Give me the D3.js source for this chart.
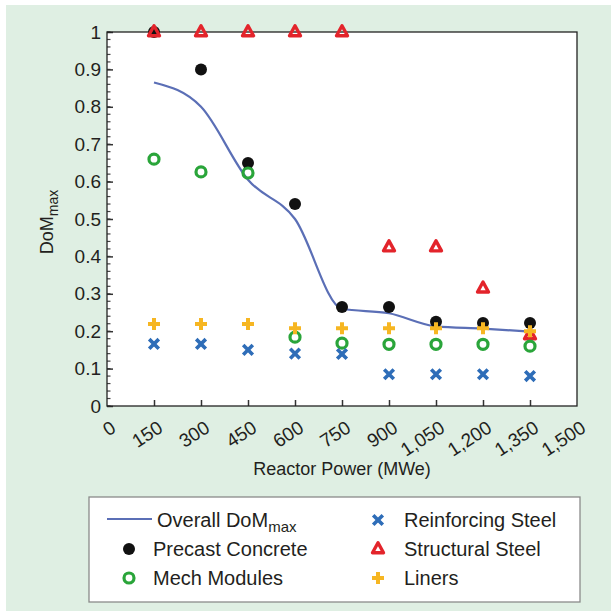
<!DOCTYPE html>
<html lang="en">
	<head>
		<meta charset="utf-8">
		<title>DoM max vs reactor power</title>
		<script type="text/javascript" src="https://cdn.jsdelivr.net/npm/d3@7"></script>
		<style type="text/css">
			body { margin:0; background:#fff; }
			text { font-family: "Liberation Sans", Arial, sans-serif; fill:#231f20; }
		</style>
	</head>
	<body>
		<script type="text/javascript">

var power = [150,300,450,600,750,900,1050,1200,1350]
var overall = [0.865,0.80,0.605,0.50,0.26,0.248,0.213,0.207,0.199]
var precast = [1.0,0.90,0.65,0.54,0.265,0.265,0.225,0.222,0.222]
var structural = [1,1,1,1,1,0.425,0.425,0.315,0.19]
var mech = [0.66,0.626,0.623,0.184,0.168,0.165,0.165,0.165,0.16]
var liners = [0.219,0.219,0.219,0.208,0.208,0.208,0.208,0.208,0.2]
var reinforcing = [0.166,0.166,0.15,0.14,0.139,0.085,0.085,0.085,0.08]
var xTicks = [0,150,300,450,600,750,900,1050,1200,1350,1500]
var yTicks = [0,0.1,0.2,0.3,0.4,0.5,0.6,0.7,0.8,0.9,1]

var W = 611, H = 611
var pL = 107, pR = 577, pT = 32, pB = 406

var svg = d3.select("body").append("svg")
	.attr("width", W).attr("height", H)

svg.append("rect").attr("x",6).attr("y",5).attr("width",W-6).attr("height",H-5)
	.attr("fill","#dfefe3")

svg.append("rect").attr("x",pL).attr("y",pT).attr("width",pR-pL).attr("height",pB-pT)
	.attr("fill","#fff")

var x = d3.scaleLinear().domain([0,1500]).range([pL,pR])
var y = d3.scaleLinear().domain([0,1]).range([pB,pT])

// minor y ticks
var minor = d3.range(0,1.0001,0.02)
svg.selectAll(".minor").data(minor).enter().append("line")
	.attr("x1",pL).attr("x2",pL+3.5)
	.attr("y1",function(d){return y(d)}).attr("y2",function(d){return y(d)})
	.attr("stroke","#444").attr("stroke-width",1.2)

var yAxis = d3.axisLeft(y).tickValues(yTicks).tickSize(-6).tickPadding(6)
	.tickFormat(function(d){return String(+d.toFixed(1))})
var gy = svg.append("g").attr("transform","translate("+pL+",0)").call(yAxis)
gy.select(".domain").remove()
gy.selectAll("line").attr("stroke","#333").attr("stroke-width",1.5)
gy.selectAll("text").attr("font-size","19px").attr("fill","#231f20")
	.attr("font-family","'Liberation Sans', Arial, sans-serif")

var xAxis = d3.axisBottom(x).tickValues(xTicks.slice(1,-1)).tickSize(-6).tickFormat("")
var gx = svg.append("g").attr("transform","translate(0,"+pB+")").call(xAxis)
gx.select(".domain").remove()
gx.selectAll("line").attr("stroke","#333").attr("stroke-width",1.5)

svg.selectAll(".xlab").data(xTicks).enter().append("text")
	.attr("text-anchor","end")
	.attr("font-size","19px")
	.attr("transform",function(d){return "translate("+(x(d)+10)+","+(pB+25)+") rotate(-33)"})
	.text(function(d){return d3.format(",")(d)})

// frame
svg.append("rect").attr("x",pL).attr("y",pT).attr("width",pR-pL).attr("height",pB-pT)
	.attr("fill","none").attr("stroke","#222").attr("stroke-width",1.3)

// axis titles
svg.append("text").attr("x",342).attr("y",475).attr("text-anchor","middle")
	.attr("font-size","18px").text("Reactor Power (MWe)")
var yl = svg.append("text").attr("transform","translate(53,222) rotate(-90)")
	.attr("text-anchor","middle").attr("font-size","18px")
yl.append("tspan").text("DoM")
yl.append("tspan").attr("font-size","14px").attr("dy",5).text("max")

// markers
var blue = "#2e6db8", red = "#e3242b", green = "#2aa53a", gold = "#f6b622", lineCol = "#5b6fb6"

function triPath(s){ return "M0,"+(-s*0.62)+"L"+(s*0.55)+","+(s*0.38)+"L"+(-s*0.55)+","+(s*0.38)+"Z" }
function xPath(s){ return "M"+(-s)+","+(-s)+"L"+s+","+s+"M"+(-s)+","+s+"L"+s+","+(-s) }
function plusPath(s){ return "M"+(-s)+",0L"+s+",0M0,"+(-s)+"L0,"+s }

function series(vals, draw){
	var g = svg.append("g")
	var sel = g.selectAll("g").data(power).enter().append("g")
		.attr("transform",function(d,i){return "translate("+x(d)+","+y(vals[i])+")"})
	draw(sel)
}

svg.append("path").datum(power)
	.attr("d", d3.line().x(function(d){return x(d)}).y(function(d,i){return y(overall[i])}).curve(d3.curveMonotoneX))
	.attr("fill","none").attr("stroke",lineCol).attr("stroke-width",2.2)

function drawPrecast(sel){ sel.append("circle").attr("r",6).attr("fill","#111") }
function drawStruct(sel){ sel.append("path").attr("d",triPath(10)).attr("fill","none").attr("stroke",red).attr("stroke-width",3.4).attr("stroke-linejoin","round") }
function drawMech(sel){ sel.append("circle").attr("r",5).attr("fill","none").attr("stroke",green).attr("stroke-width",3.2) }
function drawReinf(sel){ sel.append("path").attr("d",xPath(4.8)).attr("stroke",blue).attr("stroke-width",3.6) }
function drawLiner(sel){ sel.append("path").attr("d",plusPath(6)).attr("stroke",gold).attr("stroke-width",4) }

series(precast, drawPrecast)
series(structural, drawStruct)
series(mech, drawMech)
series(reinforcing, drawReinf)
series(liners, drawLiner)

// legend
svg.append("rect").attr("x",89).attr("y",497).attr("width",491).attr("height",105)
	.attr("fill","#fff").attr("stroke","#8a8a8a").attr("stroke-width",1.3)

var legL = [
	{name:"Overall DoM", sub:"max", draw:null, y:520},
	{name:"Precast Concrete", draw:drawPrecast, y:549},
	{name:"Mech Modules", draw:drawMech, y:578}
]
var legR = [
	{name:"Reinforcing Steel", draw:drawReinf, y:520},
	{name:"Structural Steel", draw:drawStruct, y:549},
	{name:"Liners", draw:drawLiner, y:578}
]

legL.forEach(function(d){
	if (d.draw){
		d.draw(svg.append("g").attr("transform","translate(129,"+d.y+")"))
	}else{
		svg.append("line").attr("x1",107).attr("x2",152).attr("y1",d.y-1).attr("y2",d.y-1)
			.attr("stroke",lineCol).attr("stroke-width",2.2)
	}
	var t = svg.append("text").attr("x",d.draw?153:157).attr("y",d.y+7).attr("font-size","20px")
	t.append("tspan").text(d.name)
	if (d.sub) t.append("tspan").attr("font-size","15px").attr("dy",5).text(d.sub)
})
legR.forEach(function(d){
	d.draw(svg.append("g").attr("transform","translate(378,"+d.y+")"))
	svg.append("text").attr("x",404).attr("y",d.y+7).attr("font-size","20px").text(d.name)
})

		</script>
	</body>
</html>
